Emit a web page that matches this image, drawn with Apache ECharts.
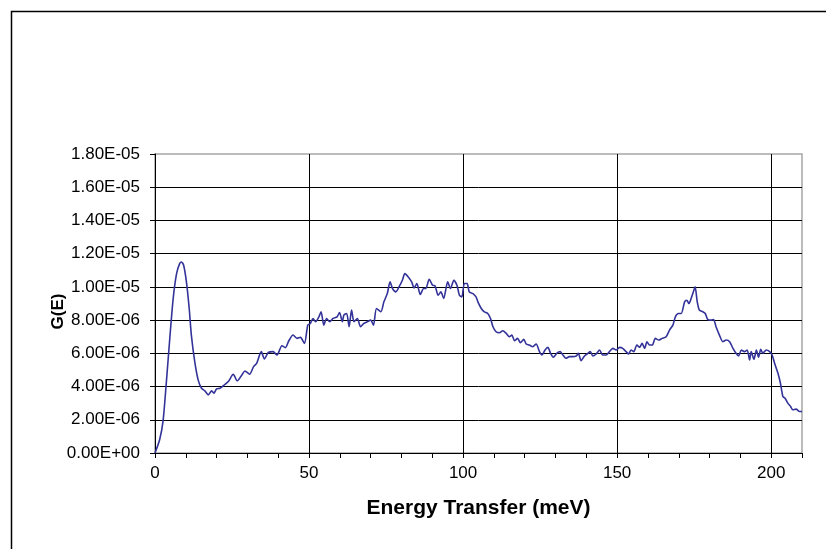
<!DOCTYPE html>
<html>
<head>
<meta charset="utf-8">
<title>G(E) vs Energy Transfer</title>
<script src="https://cdn.jsdelivr.net/npm/echarts@6/dist/echarts.min.js"></script>
<style>
  html, body { margin: 0; padding: 0; background: #ffffff; }
  #chart { width: 826px; height: 549px; }
</style>
</head>
<body>
<div id="chart"></div>
<script>
// Energy transfer (meV)
const energy = [
  0, 1.5, 2.6, 3.7, 4.8, 5.9, 7.0, 8.0, 8.6, 9.3, 10.2, 11.1, 11.8, 12.9, 14.0, 15.1,
  16.2, 17.3, 18.4, 19.1, 20.0, 21.1, 22.2, 23.8, 25.4, 26.7, 28.2, 29.2, 30.7, 32.0,
  33.0, 34.5, 35.5, 36.8, 38.3, 39.6, 41.2, 42.3, 43.4, 44.8, 46.1, 47.2, 48.5, 49.6,
  50.4, 51.3, 52.1, 53.2, 53.9, 54.8, 55.7, 56.7, 57.8, 59.1, 59.9, 60.8, 61.3, 62.2,
  63.0, 63.8, 64.6, 65.7, 66.7, 67.8, 68.9, 70.0, 70.9, 71.9, 73.3, 74.3, 75.4, 76.3,
  77.1, 78.2, 79.2, 80.3, 81.1, 82.2, 83.3, 84.1, 85.0, 86.1, 87.2, 87.9, 89.0, 90.1,
  90.9, 91.9, 92.8, 93.7, 95.0, 95.9, 97.0, 98.0, 98.8, 99.6, 100.4, 101.3, 102.0,
  103.2, 104.2, 104.8, 105.9, 106.9, 108.0, 108.9, 109.7, 110.7, 111.8, 112.9, 114.0,
  115.0, 115.8, 116.7, 117.7, 118.6, 119.7, 120.5, 121.5, 122.6, 123.7, 124.8, 125.6,
  126.6, 127.5, 128.4, 129.3, 130.4, 131.5, 132.4, 133.4, 134.5, 135.6, 136.7, 137.4,
  138.3, 139.4, 140.5, 141.3, 142.1, 143.2, 144.3, 145.3, 146.4, 147.5, 148.6, 149.7,
  150.8, 151.8, 152.9, 153.7, 154.5, 155.4, 156.4, 157.3, 158.1, 158.9, 159.7, 160.5,
  161.4, 162.4, 163.5, 164.6, 165.9, 167.0, 168.1, 168.9, 169.9, 170.8, 171.9, 172.6,
  173.3, 174.0, 174.9, 175.3, 176.0, 176.7, 177.8, 178.6, 179.4, 180.5, 181.3, 182.1,
  183.2, 184.3, 185.4, 186.5, 187.6, 188.6, 189.4, 190.3, 191.3, 192.2, 193.0, 193.5,
  194.4, 195.2, 195.9, 196.6, 197.3, 198.4, 199.5, 200.3, 201.1, 202.2, 203.0, 203.8,
  204.5, 205.4, 206.3, 207.0, 208.1, 209.2, 210.0
];

// Density of states G(E)
const gE = [
  0, 0.8e-6, 1.9e-6, 4.3e-6, 6.9e-6, 9.3e-6, 10.8e-6, 11.4e-6, 11.5e-6, 11.3e-6, 10.3e-6,
  8.7e-6, 7.1e-6, 5.5e-6, 4.4e-6, 3.9e-6, 3.74e-6, 3.5e-6, 3.74e-6, 3.6e-6, 3.86e-6,
  3.9e-6, 4.06e-6, 4.3e-6, 4.74e-6, 4.34e-6, 4.7e-6, 4.94e-6, 4.74e-6, 5.2e-6, 5.4e-6,
  6.1e-6, 5.66e-6, 6.06e-6, 6.1e-6, 5.9e-6, 6.46e-6, 6.34e-6, 6.74e-6, 7.1e-6, 6.9e-6,
  6.96e-6, 6.6e-6, 7.7e-6, 7.8e-6, 8.1e-6, 7.9e-6, 8.2e-6, 8.5e-6, 7.7e-6, 8.1e-6,
  7.9e-6, 8.1e-6, 8.2e-6, 8.46e-6, 7.9e-6, 8.3e-6, 8.4e-6, 7.6e-6, 8.6e-6, 7.9e-6,
  8.1e-6, 7.6e-6, 7.8e-6, 7.9e-6, 8.0e-6, 7.7e-6, 8.7e-6, 8.5e-6, 9.1e-6, 9.6e-6,
  10.3e-6, 9.9e-6, 9.7e-6, 10.0e-6, 10.4e-6, 10.8e-6, 10.6e-6, 10.3e-6, 9.94e-6,
  10.2e-6, 9.54e-6, 9.9e-6, 9.9e-6, 10.46e-6, 10.1e-6, 10.06e-6, 9.5e-6, 9.7e-6,
  9.3e-6, 10.3e-6, 9.9e-6, 10.4e-6, 10.1e-6, 9.5e-6, 9.4e-6, 10.2e-6, 10.2e-6, 9.7e-6,
  9.6e-6, 9.4e-6, 9.1e-6, 8.7e-6, 8.5e-6, 8.4e-6, 8.1e-6, 7.6e-6, 7.3e-6, 7.24e-6,
  7.36e-6, 7.2e-6, 7.0e-6, 7.1e-6, 6.76e-6, 6.9e-6, 6.64e-6, 6.84e-6, 6.56e-6, 6.5e-6,
  6.4e-6, 6.56e-6, 6.1e-6, 5.9e-6, 6.2e-6, 6.36e-6, 6.0e-6, 5.76e-6, 6.0e-6, 6.1e-6,
  5.9e-6, 5.7e-6, 5.8e-6, 5.8e-6, 5.84e-6, 6.0e-6, 5.56e-6, 5.84e-6, 6.0e-6, 6.1e-6,
  5.84e-6, 5.96e-6, 6.2e-6, 5.9e-6, 5.9e-6, 6.1e-6, 6.3e-6, 6.2e-6, 6.36e-6, 6.3e-6,
  6.1e-6, 5.96e-6, 6.2e-6, 6.1e-6, 6.5e-6, 6.36e-6, 6.6e-6, 6.3e-6, 6.7e-6, 6.5e-6,
  6.5e-6, 6.9e-6, 6.8e-6, 6.9e-6, 7.0e-6, 7.4e-6, 7.7e-6, 8.2e-6, 8.4e-6, 8.4e-6,
  9.1e-6, 9.2e-6, 9.0e-6, 9.3e-6, 9.8e-6, 10.0e-6, 9.1e-6, 8.6e-6, 8.5e-6, 8.4e-6,
  8.04e-6, 8.0e-6, 8.04e-6, 7.6e-6, 7.1e-6, 6.7e-6, 6.8e-6, 6.7e-6, 6.3e-6, 6.0e-6,
  5.84e-6, 6.2e-6, 6.1e-6, 6.2e-6, 5.6e-6, 6.1e-6, 5.64e-6, 6.2e-6, 5.76e-6, 6.24e-6,
  6.0e-6, 6.2e-6, 6.1e-6, 5.9e-6, 5.4e-6, 4.8e-6, 4.2e-6, 3.4e-6, 3.3e-6, 3.0e-6,
  2.8e-6, 2.6e-6, 2.64e-6, 2.5e-6, 2.5e-6
];

// Axis tick labels
const xTickLabels = ['0', '50', '100', '150', '200'];
const yTickLabels = [
  '0.00E+00', '2.00E-06', '4.00E-06', '6.00E-06', '8.00E-06',
  '1.00E-05', '1.20E-05', '1.40E-05', '1.60E-05', '1.80E-05'
];

const points = energy.map((e, i) => [e, gE[i]]);
const FONT = "'Liberation Sans', Arial, sans-serif";

const chart = echarts.init(document.getElementById('chart'), null, { renderer: 'canvas' });

chart.setOption({
  animation: false,
  backgroundColor: '#ffffff',
  graphic: [{
    type: 'rect',
    silent: true,
    shape: { x: 11.5, y: 11.5, width: 840, height: 560 },
    style: { fill: 'none', stroke: '#000000', lineWidth: 1.5 }
  }],
  grid: {
    left: 155, top: 154, right: 24, bottom: 96,
    show: true,
    backgroundColor: 'transparent',
    borderColor: '#a6a6a6',
    borderWidth: 1.5
  },
  xAxis: [{
    type: 'value',
    min: 0, max: 210, interval: 50,
    name: 'Energy Transfer (meV)',
    nameLocation: 'middle',
    nameGap: 45,
    nameMoveOverlap: false,
    nameTextStyle: { fontFamily: FONT, fontSize: 21, fontWeight: 'bold', color: '#000' },
    axisLine: { show: true, onZero: false, lineStyle: { color: '#000', width: 1 } },
    axisTick: { show: false },
    axisLabel: {
      margin: 12,
      fontFamily: FONT, fontSize: 17, color: '#000',
      showMaxLabel: false,
      formatter: v => { const i = Math.round(v / 50); return (v % 50 === 0 && xTickLabels[i] !== undefined) ? xTickLabels[i] : ''; }
    },
    splitLine: { show: true, showMaxLine: false, lineStyle: { color: '#000', width: 1 } }
  }, {
    // minor ticks every 10 meV along the bottom axis
    type: 'value',
    position: 'bottom',
    min: 0, max: 210, interval: 10,
    axisLine: { show: false },
    axisTick: { show: true, length: 5, lineStyle: { color: '#000', width: 1 } },
    axisLabel: { show: false },
    splitLine: { show: false }
  }],
  yAxis: {
    type: 'value',
    min: 0, max: 1.8e-5, interval: 2e-6,
    name: 'G(E)',
    nameLocation: 'middle',
    nameRotate: 90,
    nameGap: 88,
    nameMoveOverlap: false,
    nameTextStyle: { fontFamily: FONT, fontSize: 17, fontWeight: 'bold', color: '#000', padding: [0, 16, 0, 0] },
    axisLine: { show: true, onZero: false, lineStyle: { color: '#000', width: 1 } },
    axisTick: { show: true, length: 5, lineStyle: { color: '#000', width: 1 } },
    axisLabel: {
      margin: 15,
      fontFamily: FONT, fontSize: 17, color: '#000',
      formatter: v => yTickLabels[Math.round(v / 2e-6)]
    },
    splitLine: { show: true, showMaxLine: false, lineStyle: { color: '#000', width: 1 } }
  },
  series: [{
    type: 'line',
    xAxisIndex: 0,
    data: points,
    showSymbol: false,
    smooth: 0.25,
    clip: true,
    lineStyle: { color: '#333399', width: 1.6 }
  }]
});
</script>
</body>
</html>
